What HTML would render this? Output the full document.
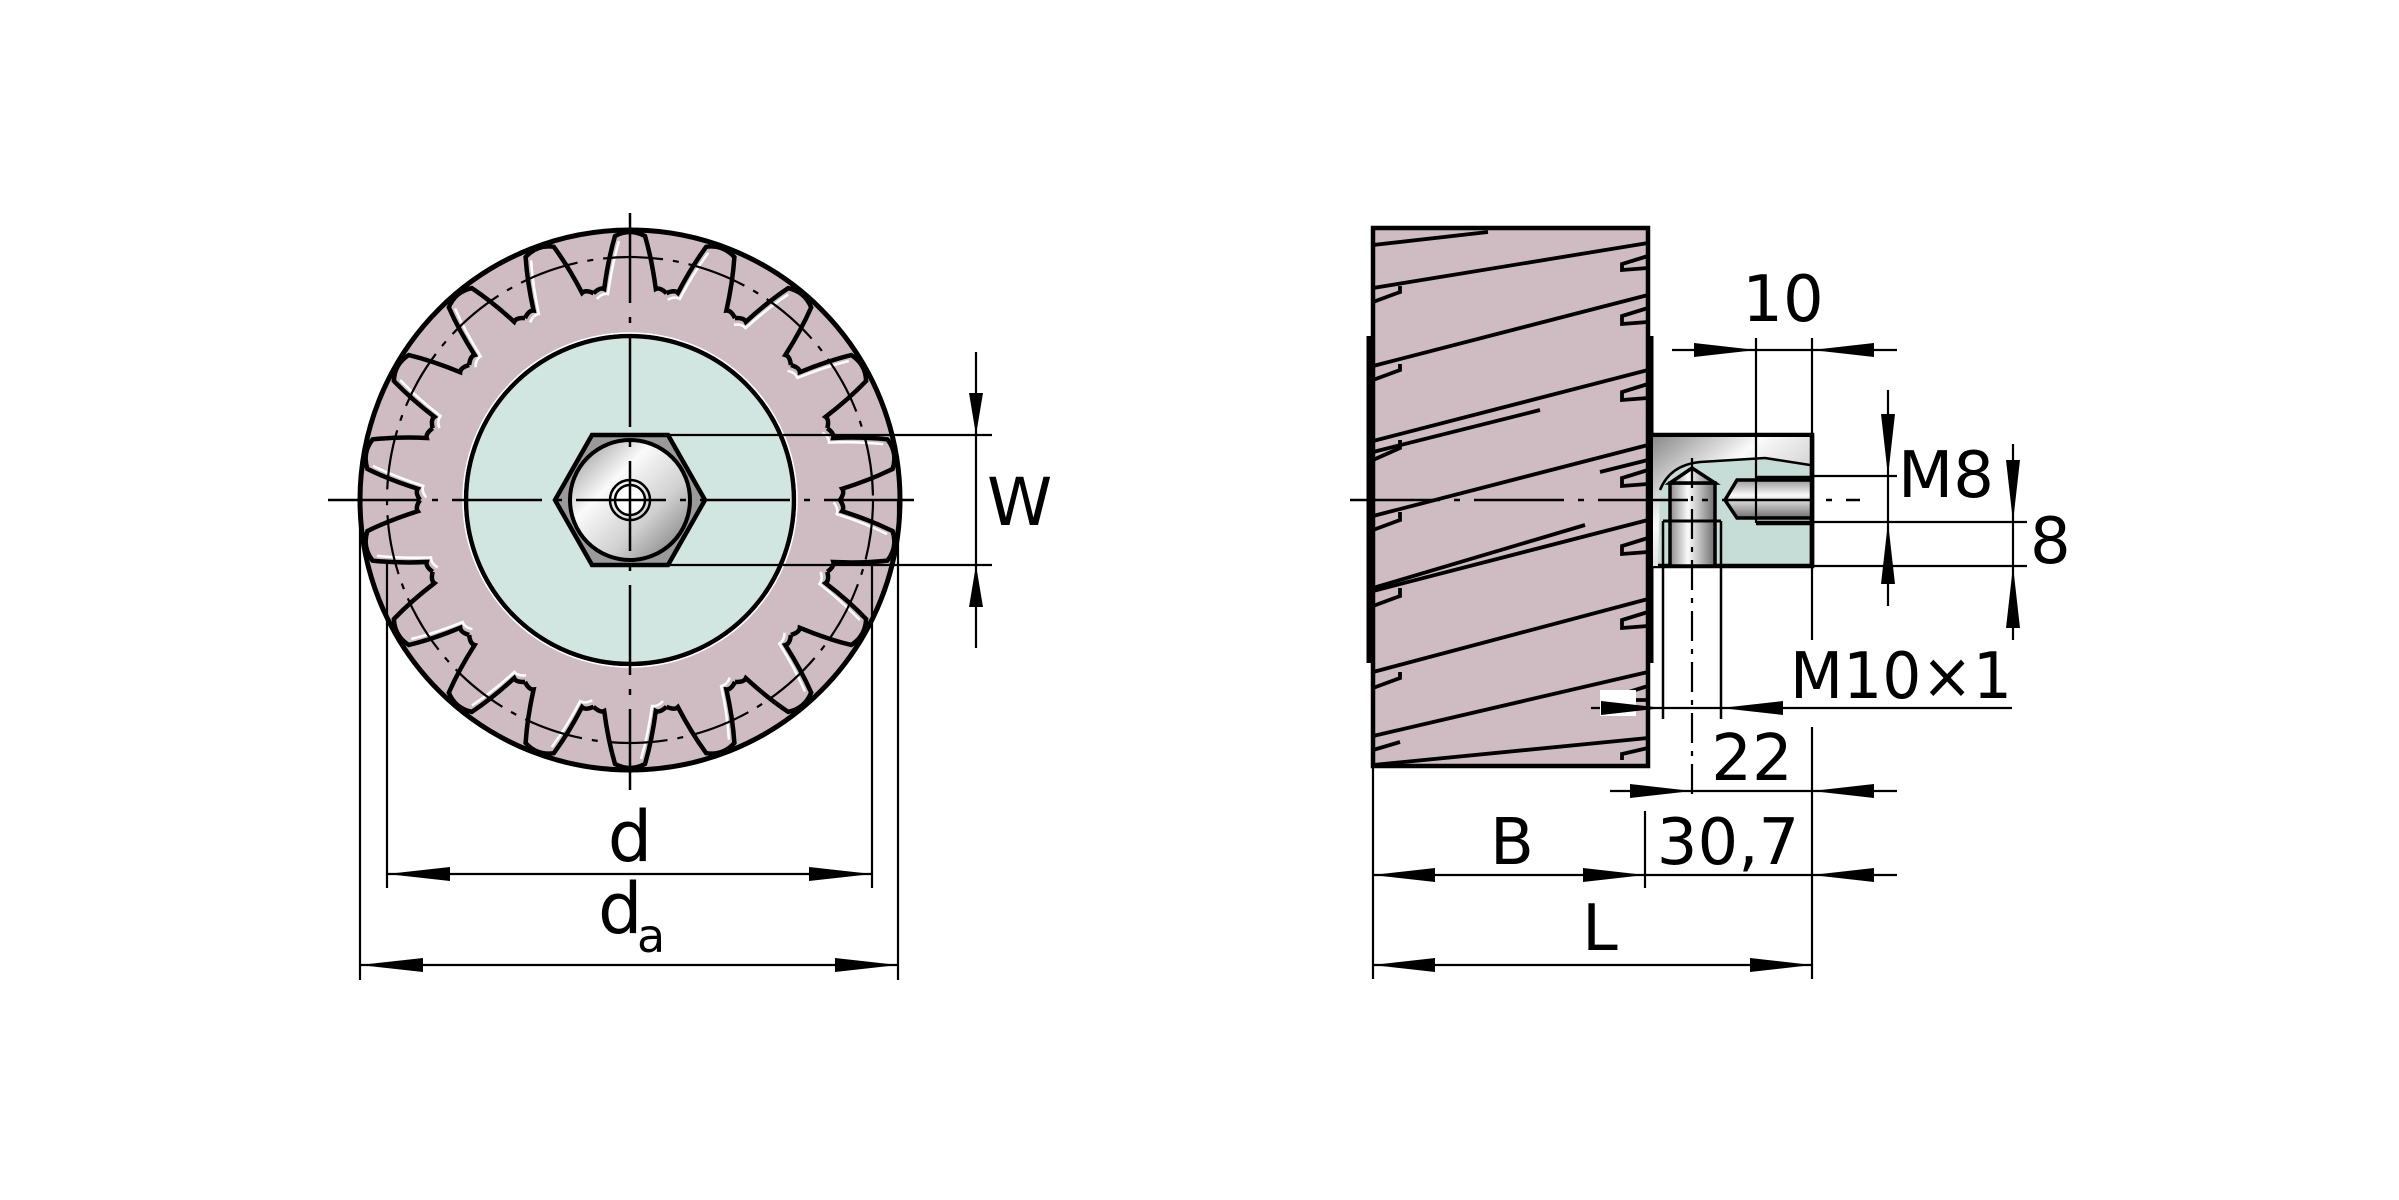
<!DOCTYPE html>
<html><head><meta charset="utf-8"><style>
html,body{margin:0;padding:0;background:#fff}
svg{display:block}
text{font-family:"DejaVu Sans","Liberation Sans",sans-serif;fill:#000}
</style></head><body>
<svg width="2399" height="1200" viewBox="0 0 2399 1200" xmlns="http://www.w3.org/2000/svg">
<defs>
<linearGradient id="met" x1="0" y1="0" x2="1" y2="1">
<stop offset="0" stop-color="#8a8a8a"/><stop offset="0.35" stop-color="#fafafa"/><stop offset="0.65" stop-color="#cfcfcf"/><stop offset="1" stop-color="#707070"/></linearGradient>
<linearGradient id="cyl" x1="0" y1="0" x2="1" y2="0">
<stop offset="0" stop-color="#8c8c8c"/><stop offset="0.4" stop-color="#fafafa"/><stop offset="1" stop-color="#6e6e6e"/></linearGradient>
<linearGradient id="cylv" x1="0" y1="0" x2="0" y2="1">
<stop offset="0" stop-color="#9a9a9a"/><stop offset="0.4" stop-color="#fafafa"/><stop offset="1" stop-color="#707070"/></linearGradient>
<path id="tooth" d="M-36.5,-206.8 Q-30,-213 -25.8,-211 Q-22,-240 -15,-264 Q0,-272 15,-264 Q22,-240 25.8,-211 Q30,-213 36.5,-206.8" fill="none" stroke="#000" stroke-width="4.5"/>
<path id="toothw" d="M-33,-201 Q-28,-207 -22,-206 Q-18,-235 -11,-259" fill="none" stroke="#fff" stroke-width="2.5"/>
</defs>

<g>
<circle cx="630" cy="500" r="270" fill="#cfbcc3" stroke="#000" stroke-width="5"/>
<g transform="translate(630,500)">
<use href="#toothw" transform="rotate(0)"/><use href="#toothw" transform="rotate(20)"/><use href="#toothw" transform="rotate(40)"/><use href="#toothw" transform="rotate(60)"/><use href="#toothw" transform="rotate(80)"/><use href="#toothw" transform="rotate(100)"/><use href="#toothw" transform="rotate(120)"/><use href="#toothw" transform="rotate(140)"/><use href="#toothw" transform="rotate(160)"/><use href="#toothw" transform="rotate(180)"/><use href="#toothw" transform="rotate(200)"/><use href="#toothw" transform="rotate(220)"/><use href="#toothw" transform="rotate(240)"/><use href="#toothw" transform="rotate(260)"/><use href="#toothw" transform="rotate(280)"/><use href="#toothw" transform="rotate(300)"/><use href="#toothw" transform="rotate(320)"/><use href="#toothw" transform="rotate(340)"/>
<use href="#tooth" transform="rotate(0)"/><use href="#tooth" transform="rotate(20)"/><use href="#tooth" transform="rotate(40)"/><use href="#tooth" transform="rotate(60)"/><use href="#tooth" transform="rotate(80)"/><use href="#tooth" transform="rotate(100)"/><use href="#tooth" transform="rotate(120)"/><use href="#tooth" transform="rotate(140)"/><use href="#tooth" transform="rotate(160)"/><use href="#tooth" transform="rotate(180)"/><use href="#tooth" transform="rotate(200)"/><use href="#tooth" transform="rotate(220)"/><use href="#tooth" transform="rotate(240)"/><use href="#tooth" transform="rotate(260)"/><use href="#tooth" transform="rotate(280)"/><use href="#tooth" transform="rotate(300)"/><use href="#tooth" transform="rotate(320)"/><use href="#tooth" transform="rotate(340)"/>
</g>
<circle cx="630" cy="500" r="243" fill="none" stroke="#000" stroke-width="2.2" stroke-dasharray="60,10,6,10"/>
<circle cx="630" cy="500" r="164" fill="#d2e6e1" stroke="#000" stroke-width="4.5"/>
<circle cx="630" cy="500" r="167" fill="none" stroke="#fff" stroke-width="1.5"/>
<polygon points="555,500 592,435 668,435 705,500 668,565 592,565" fill="#9a9a9a" stroke="#000" stroke-width="4.5"/>
<circle cx="630" cy="500" r="60" fill="url(#met)" stroke="#000" stroke-width="4"/>
<circle cx="630" cy="500" r="20" fill="none" stroke="#000" stroke-width="2.5"/>
<circle cx="630" cy="500" r="15" fill="#fff" stroke="#000" stroke-width="2.5"/>
<line x1="630" y1="213" x2="630" y2="790" stroke="#000" stroke-width="2.5" stroke-dasharray="90,14,6,14"/>
<line x1="328" y1="500" x2="920" y2="500" stroke="#000" stroke-width="2.5" stroke-dasharray="90,14,6,14"/>
</g>

<g stroke="#000" stroke-width="2.2">
<line x1="668" y1="435" x2="992" y2="435"/>
<line x1="668" y1="565" x2="992" y2="565"/>
<line x1="976" y1="352" x2="976" y2="648"/>
</g>
<polygon points="976,435 969,393 983,393"/>
<polygon points="976,565 969,607 983,607"/>
<text x="987" y="525" font-size="66">W</text>

<g stroke="#000" stroke-width="2.2">
<line x1="387" y1="560" x2="387" y2="888"/>
<line x1="872" y1="560" x2="872" y2="888"/>
<line x1="387" y1="874" x2="872" y2="874"/>
<line x1="360" y1="500" x2="360" y2="980"/>
<line x1="898" y1="500" x2="898" y2="980"/>
<line x1="360" y1="965" x2="898" y2="965"/>
</g>
<polygon points="387,874 450,867 450,881"/>
<polygon points="872,874 809,867 809,881"/>
<polygon points="360,965 423,958 423,972"/>
<polygon points="898,965 835,958 835,972"/>
<text x="630" y="861" font-size="70" text-anchor="middle">d</text>
<text x="598" y="933" font-size="70">d</text>
<text x="637" y="952" font-size="46">a</text>

<g>
<rect x="1373" y="228" width="275" height="538" fill="#cfbcc3" stroke="#000" stroke-width="4.5"/>
<line x1="1370" y1="336" x2="1370" y2="663" stroke="#000" stroke-width="7"/>
<line x1="1650" y1="336" x2="1650" y2="663" stroke="#000" stroke-width="7"/>
<g stroke="#000" stroke-width="3.8" fill="none">
<path d="M1373,245 L1488,232"/>
<path d="M1373,288 L1648,243"/>
<path d="M1373,366 L1648,295"/>
<path d="M1373,441 L1648,370"/>
<path d="M1373,452 L1540,410"/>
<path d="M1373,516 L1648,445"/>
<path d="M1600,472 L1648,460"/>
<path d="M1373,591 L1648,520"/>
<path d="M1373,588 L1585,525"/>
<path d="M1373,672 L1648,599"/>
<path d="M1373,736 L1648,672"/>
<path d="M1373,765 L1648,738"/>
<path d="M1373,302 L1400,292 L1400,286"/><path d="M1373,380 L1400,370 L1400,364"/><path d="M1373,460 L1400,448 L1400,440"/><path d="M1373,530 L1400,520 L1400,512"/><path d="M1373,606 L1400,596 L1400,588"/><path d="M1373,688 L1400,678 L1400,672"/><path d="M1373,750 L1400,742"/>
<path d="M1648,256 L1622,264 L1622,270 L1648,268"/><path d="M1648,308 L1622,316 L1622,324 L1648,322"/><path d="M1648,384 L1622,392 L1622,400 L1648,398"/><path d="M1648,470 L1622,478 L1622,486 L1648,484"/><path d="M1648,538 L1622,546 L1622,554 L1648,552"/><path d="M1648,612 L1622,620 L1622,628 L1648,626"/><path d="M1648,686 L1622,694 L1622,700 L1648,700"/><path d="M1648,748 L1622,754 L1622,760"/>
</g>
<rect x="1651" y="435" width="161" height="131" fill="#c6dcd6" stroke="#000" stroke-width="4.5"/>
<path d="M1653,437 L1810,437 L1810,465 L1765,458 L1700,462 L1675,470 L1660,490 L1658,566 L1653,566 Z" fill="url(#met)"/>
<path d="M1660,490 Q1670,465 1700,462 L1765,458 L1810,465" fill="none" stroke="#000" stroke-width="2.5"/>
<rect x="1670" y="483" width="45" height="83" fill="url(#cyl)" stroke="#000" stroke-width="3.5"/>
<polygon points="1670,483 1692,468 1715,483" fill="url(#cyl)" stroke="#000" stroke-width="3.5"/>
<polygon points="1725,500 1737,480 1812,480 1812,518 1737,518" fill="url(#cylv)" stroke="#000" stroke-width="3.5"/>
<line x1="1756" y1="478" x2="1812" y2="478" stroke="#000" stroke-width="4.5"/>
<line x1="1756" y1="523" x2="1812" y2="523" stroke="#000" stroke-width="4.5"/>
<line x1="1663" y1="521" x2="1663" y2="719" stroke="#000" stroke-width="2.5"/>
<line x1="1721" y1="521" x2="1721" y2="719" stroke="#000" stroke-width="2.5"/>
<line x1="1663" y1="521" x2="1721" y2="521" stroke="#000" stroke-width="3"/>
<line x1="1812" y1="435" x2="1812" y2="566" stroke="#000" stroke-width="4.5"/>
</g>
<line x1="1350" y1="500" x2="1860" y2="500" stroke="#000" stroke-width="2.5" stroke-dasharray="90,14,6,14"/>
<line x1="1692" y1="458" x2="1692" y2="800" stroke="#000" stroke-width="2.2" stroke-dasharray="30,8,5,8"/>

<g stroke="#000" stroke-width="2.2">
<line x1="1756" y1="338" x2="1756" y2="523"/>
<line x1="1812" y1="338" x2="1812" y2="640"/>
<line x1="1672" y1="350" x2="1897" y2="350"/>
<line x1="1812" y1="476" x2="1897" y2="476"/>
<line x1="1812" y1="522" x2="2027" y2="522"/>
<line x1="1888" y1="390" x2="1888" y2="606"/>
<line x1="1812" y1="566" x2="2027" y2="566"/>
<line x1="2013" y1="444" x2="2013" y2="640"/>
<line x1="1591" y1="708" x2="2012" y2="708"/>
<line x1="1610" y1="791" x2="1897" y2="791"/>
<line x1="1812" y1="727" x2="1812" y2="979"/>
<line x1="1645" y1="811" x2="1645" y2="888"/>
<line x1="1372" y1="875" x2="1897" y2="875"/>
<line x1="1373" y1="766" x2="1373" y2="979"/>
<line x1="1372" y1="965" x2="1812" y2="965"/>
</g>
<g>
<polygon points="1756,350 1694,343 1694,357"/>
<polygon points="1812,350 1874,343 1874,357"/>
<polygon points="1888,476 1881,414 1895,414"/>
<polygon points="1888,522 1881,584 1895,584"/>
<polygon points="2013,522 2006,460 2020,460"/>
<polygon points="2013,566 2006,628 2020,628"/>
<rect x="1600" y="690" width="36" height="26" fill="#fff"/>
<polygon points="1663,708 1601,701 1601,715"/>
<polygon points="1721,708 1783,701 1783,715"/>
<polygon points="1692,791 1630,784 1630,798"/>
<polygon points="1812,791 1874,784 1874,798"/>
<polygon points="1373,875 1435,868 1435,882"/>
<polygon points="1645,875 1583,868 1583,882"/>
<polygon points="1812,875 1874,868 1874,882"/>
<polygon points="1373,965 1435,958 1435,972"/>
<polygon points="1812,965 1750,958 1750,972"/>
</g>
<text x="1783" y="321" font-size="64" text-anchor="middle">10</text>
<text x="1898" y="497" font-size="64">M8</text>
<text x="2030" y="563" font-size="64">8</text>
<text x="1790" y="698" font-size="64" textLength="222" lengthAdjust="spacingAndGlyphs">M10×1</text>
<text x="1752" y="780" font-size="64" text-anchor="middle">22</text>
<text x="1728" y="864" font-size="64" text-anchor="middle">30,7</text>
<text x="1512" y="864" font-size="64" text-anchor="middle">B</text>
<text x="1600" y="950" font-size="64" text-anchor="middle">L</text>
</svg>
</body></html>
